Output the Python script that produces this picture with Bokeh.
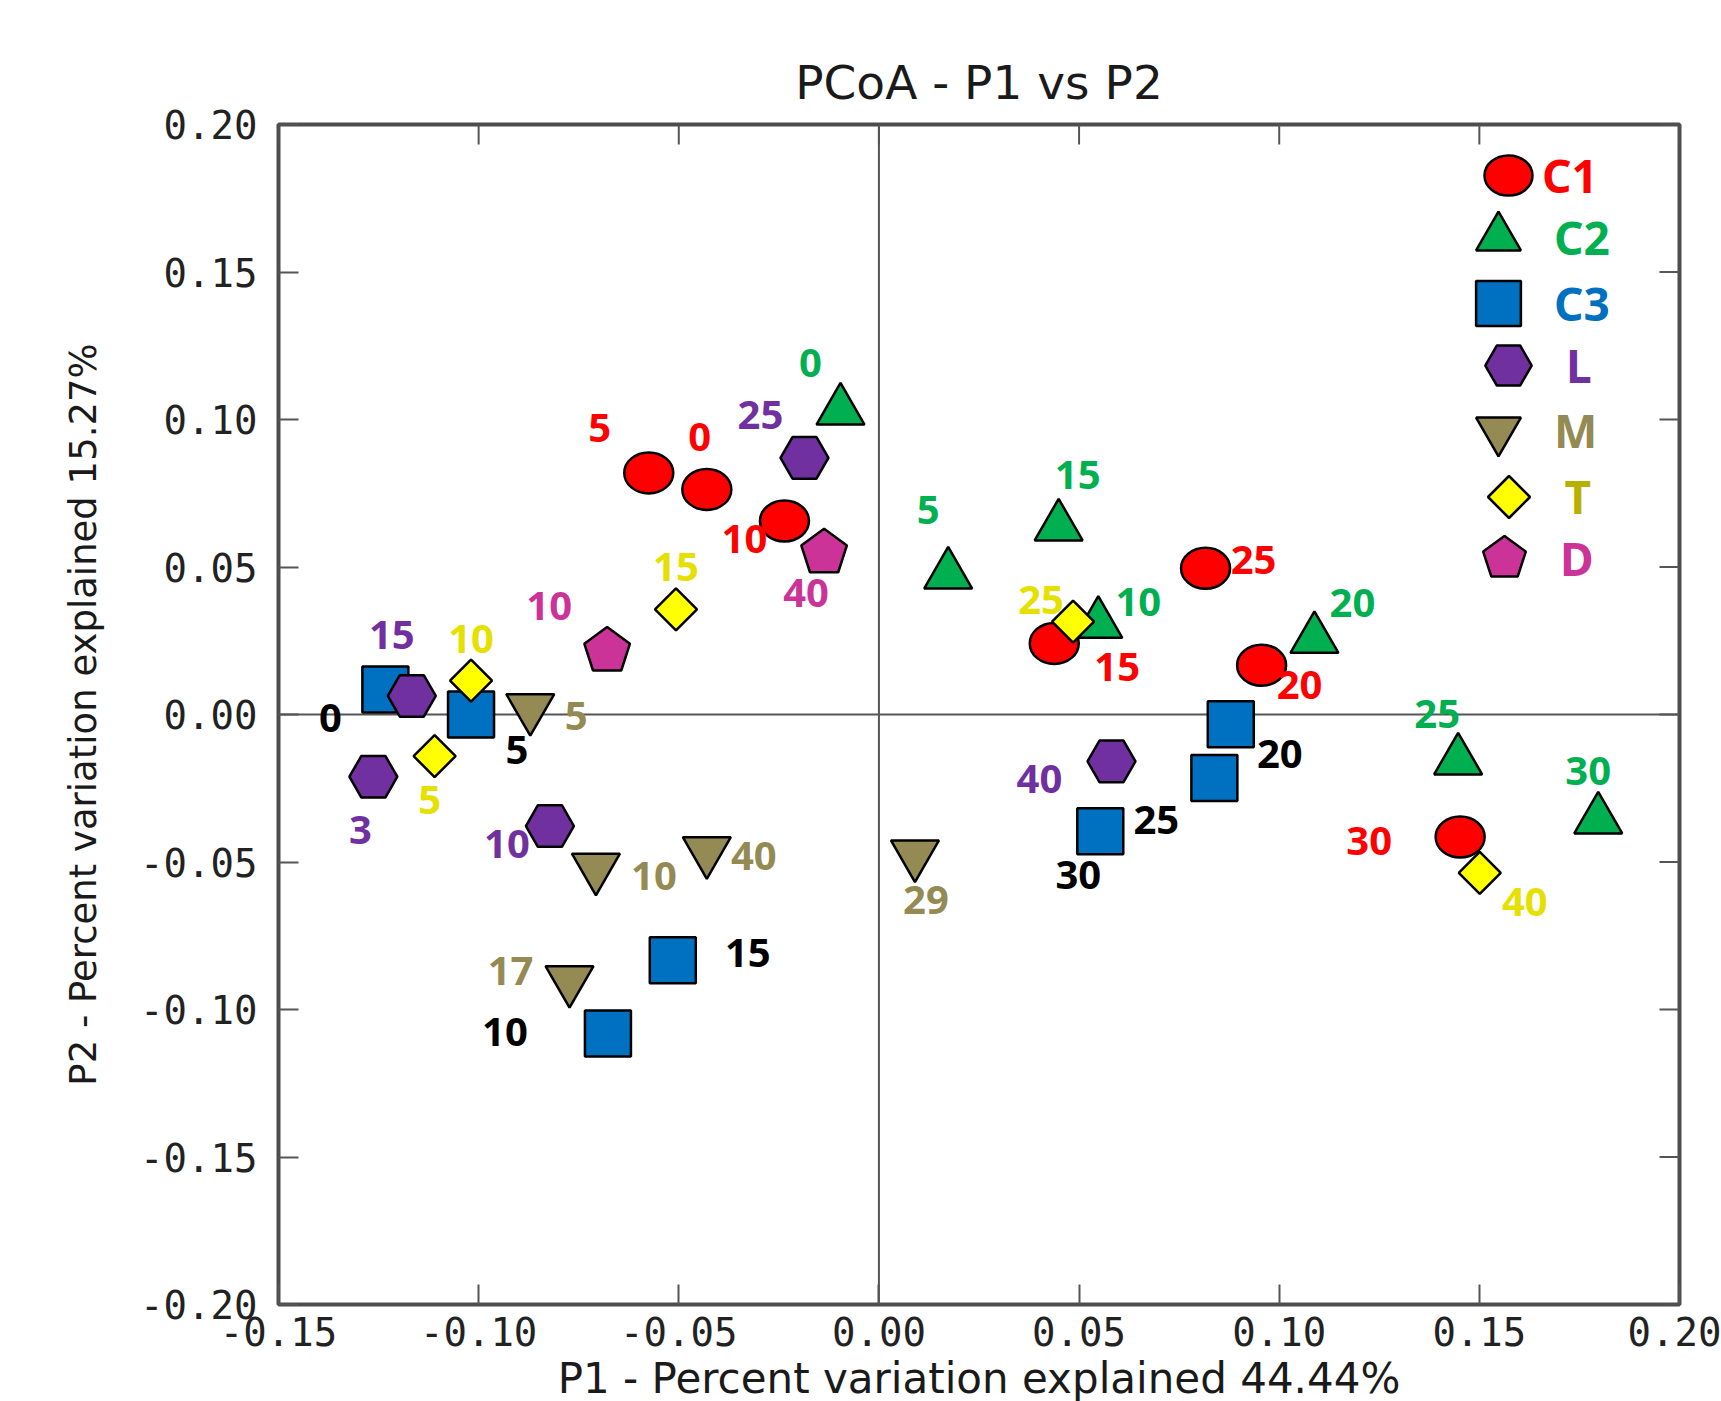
import numpy as np
from bokeh.plotting import figure
from bokeh.models import (Range1d, FixedTicker, Span, Legend, LegendItem,
                          NumeralTickFormatter, ColumnDataSource)
from bokeh.core.properties import value
from bokeh.embed import file_html
from bokeh.resources import INLINE

# ---------------- data ----------------
x_ticks = [-0.15, -0.10, -0.05, 0.00, 0.05, 0.10, 0.15, 0.20]
x_tick_labels = ["-0.15", "-0.10", "-0.05", "0.00", "0.05", "0.10", "0.15", "0.20"]
y_ticks = [-0.20, -0.15, -0.10, -0.05, 0.00, 0.05, 0.10, 0.15, 0.20]
y_tick_labels = ["-0.20", "-0.15", "-0.10", "-0.05", "0.00", "0.05", "0.10", "0.15", "0.20"]

title_text = "PCoA - P1 vs P2"
x_title = "P1 - Percent variation explained 44.44%"
y_title = "P2 - Percent variation explained 15.27%"

groups = ["C1", "C2", "C3", "L", "M", "T", "D"]

c1_days = ["0", "5", "10", "15", "20", "25", "30"]
c1_p1 = [-0.043, -0.0575, -0.0236, 0.0438, 0.0956, 0.0816, 0.1452]
c1_p2 = [0.0763, 0.0819, 0.0656, 0.0241, 0.0167, 0.0496, -0.0415]

c2_days = ["0", "5", "10", "15", "20", "25", "30"]
c2_p1 = [-0.0096, 0.0173, 0.0548, 0.0449, 0.1088, 0.1447, 0.1797]
c2_p2 = [0.103, 0.0474, 0.0307, 0.0637, 0.0256, -0.0156, -0.0356]

c3_days = ["0", "5", "10", "15", "20", "25", "30"]
c3_p1 = [-0.1233, -0.1019, -0.0677, -0.0515, 0.0879, 0.0838, 0.0553]
c3_p2 = [0.0085, 0.0, -0.1081, -0.0833, -0.0033, -0.0215, -0.0396]

l_days = ["3", "10", "15", "25", "40"]
l_p1 = [-0.1263, -0.0822, -0.1167, -0.0186, 0.0581]
l_p2 = [-0.0211, -0.0378, 0.0063, 0.087, -0.0159]

m_days = ["5", "10", "17", "29", "40"]
m_p1 = [-0.0871, -0.0707, -0.0773, 0.009, -0.043]
m_p2 = [0.0022, -0.0519, -0.09, -0.0474, -0.0463]

t_days = ["5", "10", "15", "25", "40"]
t_p1 = [-0.111, -0.1019, -0.0507, 0.0485, 0.1501]
t_p2 = [-0.0141, 0.0115, 0.0356, 0.0315, -0.0537]

d_days = ["10", "40"]
d_p1 = [-0.0679, -0.0137]
d_p2 = [0.0215, 0.0548]

# ---------------- styling (label offsets in screen px) ----------------
c1_dx = [-7, -49, -40, 63, 38, 48, -91]
c1_dy = [-52, -45, 18, 24, 20, -8, 4]
c2_dx = [-30, -20, 40, 19, 38, -21, -10]
c2_dy = [-48, -65, -22, -52, -36, -47, -49]
c3_dx = [-55, 46, -103, 75, 49, -58, -22]
c3_dy = [29, 35, -1, -7, 30, 42, 44]
l_dx = [-13, -43, -20, -44, -72]
l_dy = [53, 18, -61, -43, 18]
m_dx = [46, 58, -59, 11, 47]
m_dy = [8, 8, -9, 46, 5]
t_dx = [-5, 0, 0, -32, 45]
t_dy = [44, -42, -42, -22, 29]
d_dx = [-58, -18]
d_dy = [-45, 40]

FRAME_W = 1401
FRAME_H = 1180
TICK_LEN = 20

p = figure(frame_width=FRAME_W, frame_height=FRAME_H,
           x_range=Range1d(-0.15, 0.20), y_range=Range1d(-0.20, 0.20),
           output_backend="svg", toolbar_location=None,
           min_border_left=278, min_border_right=42, min_border_top=124,
           min_border_bottom=0)
p.background_fill_color = "white"
p.border_fill_color = "white"
p.outline_line_color = "#4d4d4d"
p.outline_line_width = 4
p.xgrid.grid_line_color = None
p.ygrid.grid_line_color = None

p.title.text = title_text
p.title.align = "center"
p.title.text_font = "DejaVu Sans"
p.title.text_font_size = "47px"
p.title.text_font_style = "normal"
p.title.text_color = "#1a1a1a"
p.title.standoff = 30


def style_axis(ax, ticks, labels):
    ax.ticker = FixedTicker(ticks=ticks)
    ax.formatter = NumeralTickFormatter(format="0.00")
    ax.major_label_overrides = {t: s for t, s in zip(ticks, labels)}
    ax.major_tick_in = TICK_LEN
    ax.major_tick_out = 0
    ax.minor_tick_line_color = None
    ax.axis_line_color = None
    ax.major_tick_line_color = "#555555"
    ax.major_tick_line_width = 2
    ax.major_label_text_font = "DejaVu Sans Mono"
    ax.major_label_text_font_size = "39px"
    ax.major_label_text_color = "#222222"
    ax.axis_label_text_font = "DejaVu Sans"
    ax.axis_label_text_font_style = "normal"
    ax.axis_label_text_color = "#1a1a1a"


xa = p.below[0]
style_axis(xa, x_ticks, x_tick_labels)
xa.major_label_standoff = 12
xa.axis_label = x_title
xa.axis_label_text_font_size = "42px"
xa.axis_label_standoff = 5

ya = p.left[0]
style_axis(ya, y_ticks, y_tick_labels)
ya.major_label_standoff = 21
ya.axis_label = y_title
ya.axis_label_text_font_size = "37px"
ya.axis_label_standoff = 32

# inward ticks on the top and right frame edges, placed at the tick values
dy_tick = TICK_LEN * (0.20 - (-0.20)) / FRAME_H
dx_tick = TICK_LEN * (0.20 - (-0.15)) / FRAME_W
p.segment(x0=x_ticks, x1=x_ticks, y0=[0.20] * len(x_ticks), y1=[0.20 - dy_tick] * len(x_ticks),
          line_color="#555555", line_width=2)
p.segment(x0=[0.20] * len(y_ticks), x1=[0.20 - dx_tick] * len(y_ticks), y0=y_ticks, y1=y_ticks,
          line_color="#555555", line_width=2)

p.add_layout(Span(location=0, dimension="height", line_color="#555555", line_width=2, level="underlay"))
p.add_layout(Span(location=0, dimension="width", line_color="#555555", line_width=2, level="underlay"))

group_data = {
    "C1": (c1_p1, c1_p2, c1_days, c1_dx, c1_dy),
    "C2": (c2_p1, c2_p2, c2_days, c2_dx, c2_dy),
    "C3": (c3_p1, c3_p2, c3_days, c3_dx, c3_dy),
    "L": (l_p1, l_p2, l_days, l_dx, l_dy),
    "M": (m_p1, m_p2, m_days, m_dx, m_dy),
    "T": (t_p1, t_p2, t_days, t_dx, t_dy),
    "D": (d_p1, d_p2, d_days, d_dx, d_dy),
}

fill = {"C1": "#ff0000", "C2": "#00b050", "C3": "#0070c0", "L": "#7030a0",
        "M": "#948a54", "T": "#ffff00", "D": "#cc3399"}
label_col = {"C1": "#ff0000", "C2": "#00b050", "C3": "#000000", "L": "#7030a0",
             "M": "#948a54", "T": "#e6e000", "D": "#cc3399"}
legend_col = {"C1": "#ff0000", "C2": "#00b050", "C3": "#0070c0", "L": "#7030a0",
              "M": "#948a54", "T": "#b8b000", "D": "#cc3399"}

renderers = {}
sources = {}
for g in groups:
    xs, ys, days, dx, dy = group_data[g]
    src = ColumnDataSource(dict(x=xs, y=ys, t=days, dx=dx, dy=dy))
    sources[g] = src
    common = dict(source=src, fill_color=fill[g], line_color="black", line_width=2.5)
    if g == "C1":
        r = p.ellipse("x", "y", width=49, height=41, width_units="screen",
                      height_units="screen", **common)
    elif g == "C2":
        r = p.scatter("x", "y", marker="triangle", size=48, **common)
    elif g == "C3":
        r = p.scatter("x", "y", marker="square", size=46, **common)
    elif g == "L":
        r = p.scatter("x", "y", marker="hex", size=48, **common)
    elif g == "M":
        r = p.scatter("x", "y", marker="inverted_triangle", size=48, **common)
    elif g == "T":
        r = p.ngon("x", "y", radius=21, n=4, radius_units="screen", **common)
    else:
        r = p.ngon("x", "y", radius=24, n=5, radius_units="screen", **common)
    renderers[g] = r

for g in groups:
    p.text("x", "y", text="t", source=sources[g], x_offset="dx", y_offset="dy",
           text_align="center", text_baseline="middle",
           text_font=value("Noto Sans"), text_font_size="40px", text_font_style="bold",
           text_color=label_col[g])

# legend: glyph box, label standoff, glyph centre (px from frame left / frame top)
leg_box = {"C1": (60, 80), "C2": (112, 112), "C3": (112, 112), "L": (116, 116),
           "M": (112, 112), "T": (105, 105), "D": (112, 112)}
leg_standoff = {"C1": 4, "C2": 0, "C3": 0, "L": 0, "M": 0, "T": 4, "D": 0}
leg_cx = {"C1": 1230, "C2": 1220, "C3": 1220, "L": 1230, "M": 1220, "T": 1230, "D": 1226}
leg_cy = {"C1": 51, "C2": 113, "C3": 179, "L": 241, "M": 306, "T": 372, "D": 434}

for g in groups:
    bw, bh = leg_box[g]
    x0 = leg_cx[g] - bw / 2
    y0 = FRAME_H - leg_cy[g] - bh / 2
    lg = Legend(items=[LegendItem(label=value(g), renderers=[renderers[g]])],
                location=(x0, y0), glyph_width=bw, glyph_height=bh,
                label_standoff=leg_standoff[g], label_text_color=legend_col[g],
                label_text_font="Noto Sans", label_text_font_size="46px",
                label_text_font_style="bold",
                padding=0, margin=0, spacing=0,
                border_line_color=None, background_fill_alpha=0)
    p.add_layout(lg)

open("out.html", "w").write(file_html(p, INLINE))
